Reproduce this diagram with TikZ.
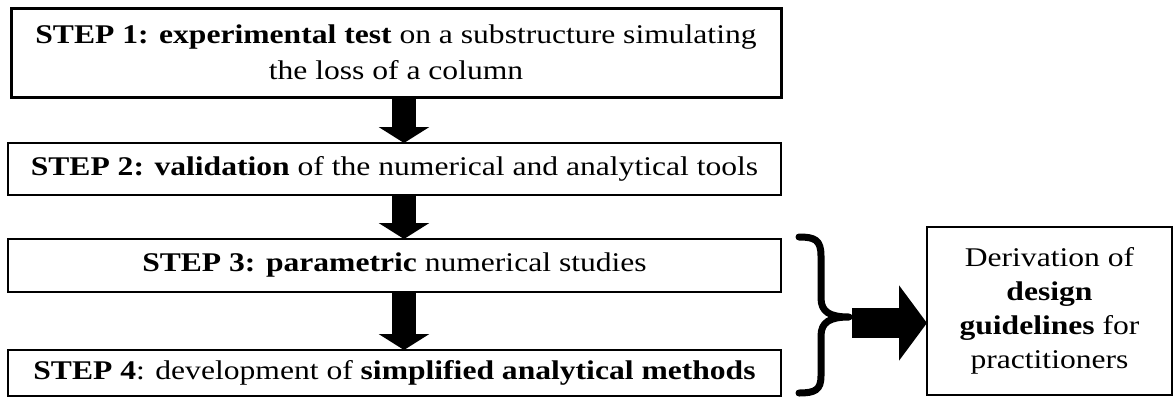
\documentclass[tikz,border=0pt]{standalone}
\usepackage{fontspec}
\setmainfont[FakeStretch=1.17]{Liberation Serif}
\usepackage{tikz}
\usetikzlibrary{positioning, arrows.meta}

\begin{document}
\begin{tikzpicture}[x=1pt, y=-1pt, font=\fontsize{27}{36}\selectfont,
  stepBox/.style={draw, line width=2pt, inner sep=0pt, outer sep=0pt, align=center, minimum width=773pt},
  blockArrow/.style={line width=24pt, -{Triangle[length=16pt, width=50pt]}},
  sideArrow/.style={line width=30pt, -{Triangle[length=28pt, width=74pt]}},
  braceLine/.style={line width=7pt, line cap=round, line join=round}]
  \useasboundingbox (0,0) rectangle (1176,397);
  % the four steps, one under the other
  \node[stepBox, line width=3pt, minimum width=770pt, minimum height=89pt] (step1) at (396,52.5)
    {\textbf{STEP 1: experimental test} on a substructure simulating\\the loss of a column};
  \node[stepBox, minimum height=52pt] (step2) at (394.5,169)
    {\textbf{STEP 2: validation} of the numerical and analytical tools};
  \node[stepBox, minimum height=53pt] (step3) at (394.5,265.5)
    {\textbf{STEP 3: parametric} numerical studies};
  \node[stepBox, minimum height=46pt] (step4) at (394.5,373)
    {\textbf{STEP 4}: development of \textbf{simplified analytical methods}};
  % outcome on the right
  \node[stepBox, minimum width=245pt, minimum height=168pt, font=\fontsize{27}{34}\selectfont] (guide) at (1049.5,311)
    {Derivation of\\\textbf{design}\\\textbf{guidelines} for\\practitioners};
  % down arrows sit a bit right of the box centre
  \coordinate (ax) at (404,0);
  \draw[blockArrow] (step1.south -| ax) -- (step2.north -| ax);
  \draw[blockArrow] (step2.south -| ax) -- (step3.north -| ax);
  \draw[blockArrow] (step3.south -| ax) -- (step4.north -| ax);
  % brace round steps 3 and 4
  \coordinate (braceTop) at (799,237);
  \coordinate (braceBot) at (799,393);
  \coordinate (tip) at (849,317);
  \draw[braceLine] (braceTop) .. controls (815,237) and (821,240) .. (821,256)
    -- (821,298) .. controls (821,312) and (830,317) .. (tip)
    .. controls (830,317) and (821,322) .. (821,336)
    -- (821,376) .. controls (821,390) and (815,393) .. (braceBot);
  % arrow to the outcome
  \coordinate (arrowStart) at (852,323);
  \draw[sideArrow] (arrowStart) -- (guide.west |- arrowStart);
\end{tikzpicture}
\end{document}
